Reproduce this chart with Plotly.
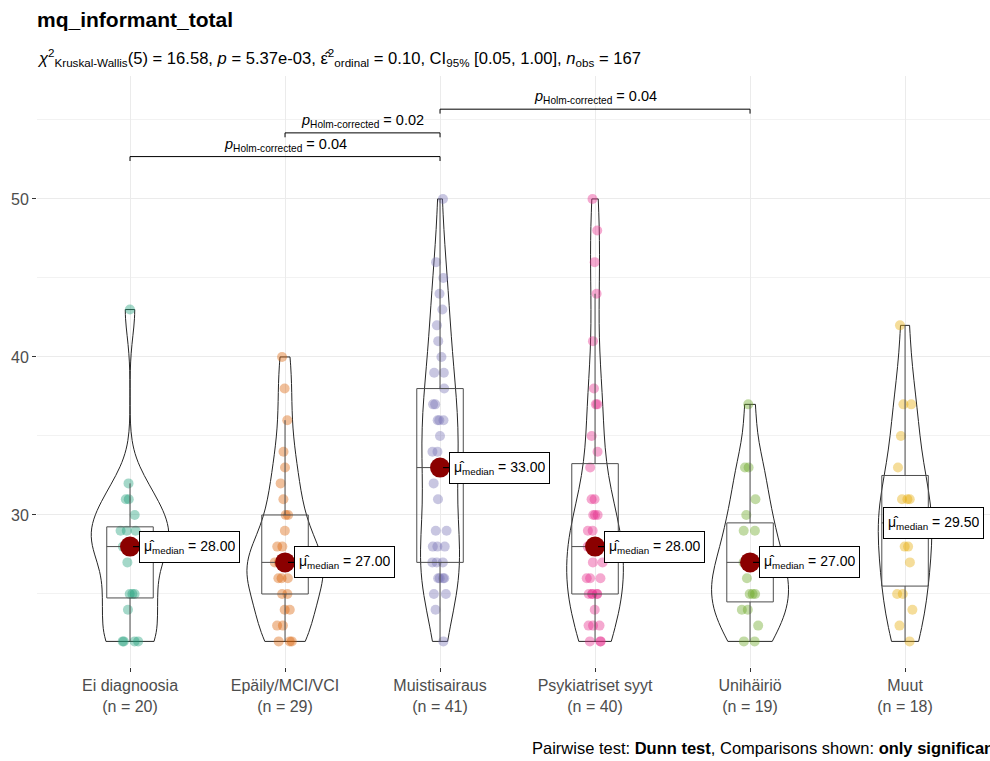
import numpy as np
import plotly.graph_objects as go

# ---------------- data ----------------
categories = ["Ei diagnoosia", "Epäily/MCI/VCI", "Muistisairaus",
              "Psykiatriset syyt", "Unihäiriö", "Muut"]

ei_diagnoosia = [22, 22, 22, 22, 24, 25, 25, 25, 27, 28, 28, 28, 29, 29, 29, 30, 31, 31, 32, 43]
epaily_mci_vci = [22, 22, 22, 23, 23, 24, 24, 25, 25, 26, 26, 26, 27, 27, 27, 27, 27, 28, 28,
                  29, 30, 30, 31, 32, 33, 34, 36, 38, 40]
muistisairaus = [22, 24, 25, 25, 26, 26, 26, 26, 27, 27, 27, 28, 28, 28, 29, 29, 31, 32, 33, 33,
                 33, 33, 34, 34, 35, 36, 36, 36, 37, 37, 38, 39, 39, 40, 41, 42, 43, 44, 45, 46, 50]
psykiatriset_syyt = [22, 22, 22, 23, 23, 23, 24, 25, 25, 25, 25, 25, 26, 26, 26, 27, 27, 28, 28, 28,
                     28, 28, 29, 29, 30, 30, 30, 31, 31, 33, 34, 35, 37, 37, 38, 41, 44, 46, 48, 50]
unihairio = [22, 22, 23, 24, 24, 25, 25, 25, 26, 27, 27, 27, 29, 29, 30, 31, 33, 33, 37]
muut = [22, 23, 24, 25, 25, 27, 28, 28, 29, 30, 31, 31, 31, 33, 35, 37, 37, 42]

groups = [ei_diagnoosia, epaily_mci_vci, muistisairaus, psykiatriset_syyt, unihairio, muut]

# pairwise (Dunn, Holm) significant comparisons
pair_a = [0, 1, 2]
pair_b = [2, 2, 4]
pair_p = ["0.04", "0.02", "0.04"]

title_text = "mq_informant_total"
subtitle_text = ("<i>χ</i><sup>2</sup><sub>Kruskal-Wallis</sub>(5) = 16.58, <i>p</i> = 5.37e-03, "
                 "ε̂<sup>2</sup><sub>ordinal</sub> = 0.10, CI<sub>95%</sub> [0.05, 1.00], "
                 "<i>n</i><sub>obs</sub> = 167")
caption_text = "Pairwise test: <b>Dunn test</b>, Comparisons shown: <b>only significant</b>"

palette = ["27,158,119", "217,95,2", "117,112,179", "231,41,138", "102,166,30", "230,171,2"]

# ---------------- layout constants ----------------
W, H = 990, 761
ML, MR, MT, MB = 37, 0, 76, 94
XR = [-0.6, 5.548]
YR = [20.38, 57.78]
FONT = "Liberation Sans, Arial, sans-serif"
pw = W - ML - MR
ph = H - MT - MB


def xpx(v):
    return ML + (v - XR[0]) / (XR[1] - XR[0]) * pw


def ypaper(py):
    return (H - MB - py) / ph


def nrd0(v):
    v = np.asarray(v, float)
    sd = v.std(ddof=1)
    iqr = np.percentile(v, 75) - np.percentile(v, 25)
    return 0.9 * min(sd, iqr / 1.34) * len(v) ** (-0.2)


def kde_max(v, bw):
    v = np.asarray(v, float)
    grid = np.linspace(v.min(), v.max(), 512)
    d = np.exp(-0.5 * ((grid[:, None] - v[None, :]) / bw) ** 2).sum(axis=1)
    return (d / (len(v) * bw * np.sqrt(2 * np.pi))).max()


bws = [nrd0(g) for g in groups]
kmax = [kde_max(g, b) for g, b in zip(groups, bws)]
kmax_all = max(kmax)

fig = go.Figure()

# jittered points
for i, vals in enumerate(groups):
    fig.add_trace(go.Box(
        x=[i] * len(vals), y=vals, boxpoints="all", jitter=0.45, pointpos=0, width=0.3,
        line=dict(width=0, color="rgba(0,0,0,0)"), fillcolor="rgba(0,0,0,0)",
        marker=dict(color="rgba(%s,0.4)" % palette[i], size=10, line=dict(width=0)),
        hoverinfo="skip", showlegend=False))

# boxplots (type-7 quantiles like ggplot)
for i, vals in enumerate(groups):
    v = np.asarray(vals, float)
    q1, med, q3 = np.percentile(v, [25, 50, 75])
    iqr = q3 - q1
    lf = v[v >= q1 - 1.5 * iqr].min()
    uf = v[v <= q3 + 1.5 * iqr].max()
    fig.add_trace(go.Box(
        x=[i], q1=[q1], median=[med], q3=[q3], lowerfence=[lf], upperfence=[uf],
        width=0.3, whiskerwidth=0, line=dict(color="#4d4d4d", width=1),
        fillcolor="rgba(0,0,0,0)", boxpoints=False, hoverinfo="skip", showlegend=False))

# violins (area-scaled like ggplot, trimmed, nrd0 bandwidth)
for i, vals in enumerate(groups):
    fig.add_trace(go.Violin(
        x=[i] * len(vals), y=vals, width=0.5 * kmax[i] / kmax_all,
        scalegroup="v%d" % i, scalemode="width",
        spanmode="hard", bandwidth=bws[i], points=False,
        line=dict(color="#262626", width=1), fillcolor="rgba(0,0,0,0)",
        box_visible=False, meanline_visible=False, hoverinfo="skip", showlegend=False))

medians = [float(np.median(v)) for v in groups]

annotations = []
shapes = []
LABEL_W = 105
for i, m in enumerate(medians):
    shift = min(9, 988 - LABEL_W - xpx(i))
    if shift > 0:
        shapes.append(dict(type="line", xref="x", yref="y", xsizemode="pixel", xanchor=i,
                           x0=3, x1=shift, y0=m, y1=m, layer="above",
                           line=dict(color="black", width=1.2)))
    annotations.append(dict(
        x=i, y=m, xref="x", yref="y", xanchor="left", yanchor="middle", xshift=shift,
        text="μ̂<sub>median</sub> = %.2f" % m, showarrow=False,
        font=dict(family=FONT, size=14, color="black"), height=22,
        bgcolor="white", bordercolor="black", borderwidth=1, borderpad=4))

fig.add_trace(go.Scatter(x=list(range(len(groups))), y=medians, mode="markers",
                         marker=dict(color="#8B0000", size=20), hoverinfo="skip",
                         showlegend=False))

# significance brackets
ymax = max(max(g) for g in groups)
for k, (a, b, p) in enumerate(zip(pair_a, pair_b, pair_p)):
    lvl = ymax + 2.68 + 1.5 * k
    fig.add_trace(go.Scatter(x=[a, a, b, b], y=[lvl - 0.28, lvl, lvl, lvl - 0.28],
                             mode="lines", line=dict(color="black", width=1),
                             hoverinfo="skip", showlegend=False))
    annotations.append(dict(
        x=(a + b) / 2, y=lvl, xref="x", yref="y", xanchor="center", yanchor="bottom",
        yshift=1, showarrow=False,
        text="<i>p</i><sub>Holm-corrected</sub> = %s" % p,
        font=dict(family=FONT, size=14.5, color="black")))

annotations.append(dict(
    x=-2 / pw, y=ypaper(58), xref="paper", yref="paper", xanchor="left", yanchor="middle",
    showarrow=False, text=subtitle_text, font=dict(family=FONT, size=16.6, color="black")))
annotations.append(dict(
    x=(530 - ML) / pw, y=ypaper(748), xref="paper", yref="paper", xanchor="left",
    yanchor="middle", showarrow=False, text=caption_text,
    font=dict(family=FONT, size=16.5, color="black")))

ticktext = ["%s<br>(n = %d)" % (c, len(g)) for c, g in zip(categories, groups)]

fig.update_layout(
    width=W, height=H,
    margin=dict(l=ML, r=MR, t=MT, b=MB, pad=0),
    paper_bgcolor="white", plot_bgcolor="white",
    font=dict(family=FONT, color="#4d4d4d"),
    title=dict(text="<b>%s</b>" % title_text, x=ML / W, xanchor="left",
               y=1 - 20 / H, yanchor="middle", xref="container", yref="container",
               font=dict(family=FONT, size=21, color="black")),
    showlegend=False,
    boxmode="overlay", violinmode="overlay",
    annotations=annotations, shapes=shapes,
    xaxis=dict(range=XR, tickmode="array", tickvals=list(range(len(categories))),
               ticktext=ticktext, showgrid=True, gridcolor="#ebebeb", gridwidth=1,
               zeroline=False, showline=False, ticks="outside", ticklen=4,
               tickcolor="#333333", tickfont=dict(family=FONT, size=16, color="#4d4d4d")),
    yaxis=dict(range=YR, tickmode="array", tickvals=[30, 40, 50], showgrid=True,
               gridcolor="#ebebeb", gridwidth=1, zeroline=False, showline=False,
               ticks="outside", ticklen=4, tickcolor="#333333",
               tickfont=dict(family=FONT, size=16, color="#4d4d4d"),
               minor=dict(tickvals=[25, 35, 45, 55], showgrid=True, gridcolor="#f2f2f2",
                          gridwidth=1, ticks="")),
)

fig.write_html("out.html", config={"displayModeBar": False},
               post_script="document.body.style.margin='0px';")
